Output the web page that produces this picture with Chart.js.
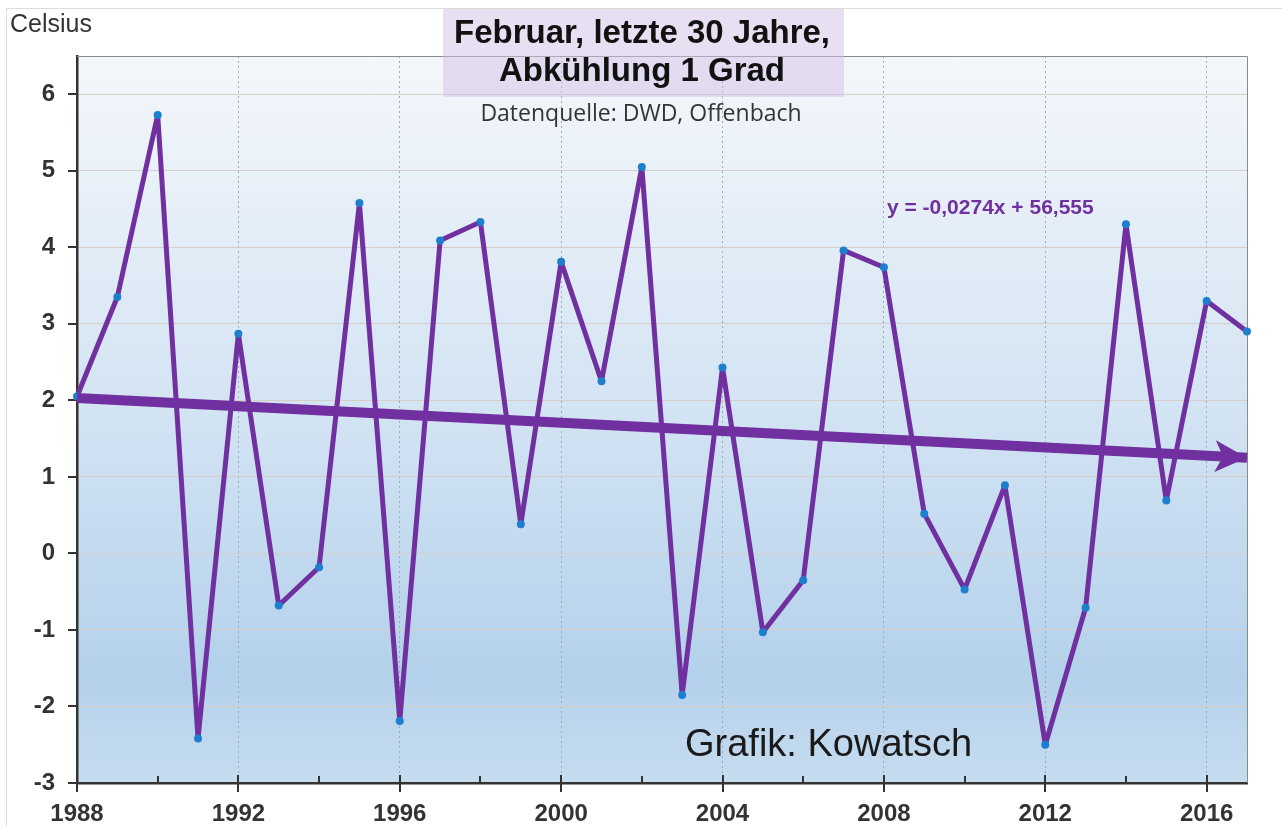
<!DOCTYPE html>
<html lang="de">
<head>
<meta charset="UTF-8">
<script src="https://cdn.jsdelivr.net/npm/chart.js@4.4.0/dist/chart.umd.min.js"></script>
<title>Februar, letzte 30 Jahre</title>
<style>
  body { margin: 0; background: #fff; }
  canvas { display: block; }
</style>
</head>
<body>
<canvas id="myChart" width="1282" height="827"></canvas>
<script>
// Februar-Mitteltemperaturen (DWD)
const years = [1988, 1989, 1990, 1991, 1992, 1993, 1994, 1995, 1996, 1997,
               1998, 1999, 2000, 2001, 2002, 2003, 2004, 2005, 2006, 2007,
               2008, 2009, 2010, 2011, 2012, 2013, 2014, 2015, 2016, 2017];
const temps = [2.05, 3.35, 5.73, -2.42, 2.87, -0.68, -0.18, 4.58, -2.19, 4.09,
               4.33, 0.38, 3.81, 2.25, 5.05, -1.85, 2.43, -1.03, -0.35, 3.96,
               3.74, 0.52, -0.47, 0.89, -2.50, -0.71, 4.30, 0.69, 3.30, 2.90];
// Trendpfeil (Anfang / Ende)
const trendYears = [1988, 2017];
const trendValues = [2.03, 1.25];

const titleLines = ['Februar, letzte 30 Jahre,', 'Abkühlung 1 Grad'];
const subTitle = 'Datenquelle: DWD, Offenbach';
const equation = 'y = -0,0274x + 56,555';
const credit = 'Grafik: Kowatsch';
const yTitle = 'Celsius';

const purple = '#7030a0';

// Hintergrund, Rahmen, Ticks
const backPlugin = {
  id: 'back',
  beforeDraw(chart) {
    const { ctx, chartArea: a } = chart;
    ctx.save();
    ctx.strokeStyle = '#dcdcdc';
    ctx.lineWidth = 1;
    ctx.strokeRect(6.5, 8.5, 1400, 900);
    const g = ctx.createLinearGradient(0, a.top, 0, a.bottom);
    g.addColorStop(0, '#f4f7fb');
    g.addColorStop(0.5, '#d2e3f3');
    g.addColorStop(0.85, '#b4d1eb');
    g.addColorStop(1, '#c6dcef');
    ctx.fillStyle = g;
    ctx.fillRect(a.left, a.top, a.right - a.left, a.bottom - a.top);
    ctx.restore();
  },
  beforeDatasetsDraw(chart) {
    const { ctx, chartArea: a, scales } = chart;
    ctx.save();
    ctx.strokeStyle = '#8a8a8a';
    ctx.lineWidth = 1;
    ctx.beginPath();
    ctx.moveTo(a.left, a.top + 0.5); ctx.lineTo(a.right + 0.5, a.top + 0.5);
    ctx.lineTo(a.right + 0.5, a.bottom);
    ctx.stroke();
    ctx.strokeStyle = '#333';
    ctx.lineWidth = 2;
    ctx.beginPath();
    scales.x.ticks.forEach(t => {
      const x = Math.round(scales.x.getPixelForValue(t.value));
      if (t.value % 4 === 0) { ctx.moveTo(x, a.bottom - 8); ctx.lineTo(x, a.bottom + 9); }
      else { ctx.moveTo(x, a.bottom - 7); ctx.lineTo(x, a.bottom); }
    });
    scales.y.ticks.forEach(t => {
      const y = Math.round(scales.y.getPixelForValue(t.value));
      ctx.moveTo(a.left - 9, y); ctx.lineTo(a.left + 1, y);
    });
    ctx.stroke();
    ctx.restore();
  },
  afterDatasetsDraw(chart) {
    const { ctx } = chart;
    const meta = chart.getDatasetMeta(0);
    const p0 = meta.data[0], p1 = meta.data[1];
    const ang = Math.atan2(p1.y - p0.y, p1.x - p0.x);
    ctx.save();
    ctx.translate(p1.x, p1.y);
    ctx.rotate(ang);
    ctx.fillStyle = purple;
    ctx.beginPath();
    ctx.moveTo(0, 0);
    ctx.lineTo(-32, -16);
    ctx.lineTo(-24, 0);
    ctx.lineTo(-32, 16);
    ctx.closePath();
    ctx.fill();
    ctx.restore();
  },
  afterDraw(chart) {
    const { ctx } = chart;
    ctx.save();
    ctx.fillStyle = 'rgba(212, 192, 230, 0.5)';
    ctx.fillRect(443, 9, 401, 88);
    ctx.textAlign = 'center';
    ctx.textBaseline = 'middle';
    ctx.fillStyle = '#111';
    ctx.font = 'bold 33px "Liberation Sans", Arial, sans-serif';
    ctx.fillText(titleLines[0], 642, 34);
    ctx.fillText(titleLines[1], 642, 72);
    ctx.fillStyle = '#333';
    ctx.font = '23px "Open Sans", sans-serif';
    ctx.fillText(subTitle, 641, 114);
    ctx.textAlign = 'left';
    ctx.fillStyle = purple;
    ctx.font = 'bold 21px "Liberation Sans", Arial, sans-serif';
    ctx.fillText(equation, 887, 208);
    ctx.fillStyle = '#1a1a1a';
    ctx.font = '38px "Liberation Sans", Arial, sans-serif';
    ctx.fillText(credit, 685, 746);
    ctx.fillStyle = '#333';
    ctx.font = '25px "Liberation Sans", Arial, sans-serif';
    ctx.fillText(yTitle, 10, 25);
    ctx.restore();
  }
};

const ctx = document.getElementById('myChart').getContext('2d');
const myChart = new Chart(ctx, {
  type: 'line',
  data: {
    datasets: [{
      label: 'Trend',
      data: trendYears.map((y, i) => ({ x: y, y: trendValues[i] })),
      borderColor: purple,
      borderWidth: 10,
      pointRadius: 0,
      order: 0,
      clip: false
    }, {
      label: 'Februar',
      data: years.map((y, i) => ({ x: y, y: temps[i] })),
      borderColor: purple,
      borderWidth: 5,
      borderJoinStyle: 'round',
      pointRadius: 4,
      pointBackgroundColor: '#1f7fcf',
      pointBorderWidth: 0,
      tension: 0,
      order: 1,
      clip: false
    }]
  },
  options: {
    responsive: false,
    animation: false,
    layout: { padding: { top: 56, right: 35, left: 0, bottom: 0 } },
    plugins: { legend: { display: false }, tooltip: { enabled: false } },
    scales: {
      x: {
        type: 'linear',
        min: 1988,
        max: 2017,
        afterFit: s => { s.height = 44; },
        ticks: {
          stepSize: 2,
          includeBounds: false,
          autoSkip: false,
          maxRotation: 0,
          padding: 17,
          color: '#333',
          font: { family: '"Liberation Sans", Arial', size: 24, weight: 'bold' },
          callback: v => (v % 4 === 0 ? String(v) : '')
        },
        grid: {
          drawTicks: false,
          color: c => (c.tick && c.tick.value % 4 === 0 && c.tick.value !== 1988 ? '#9eaab8' : 'rgba(0,0,0,0)'),
          lineWidth: 1
        },
        border: { color: '#333', width: 2.5, dash: [2, 3] }
      },
      y: {
        min: -3,
        max: 6.5,
        afterFit: s => { s.width = 77; },
        ticks: {
          stepSize: 1,
          includeBounds: false,
          padding: 22,
          color: '#333',
          font: { family: '"Liberation Sans", Arial', size: 24, weight: 'bold' }
        },
        grid: {
          drawTicks: false,
          color: c => (c.tick && c.tick.value === -3 ? 'rgba(0,0,0,0)' : '#d6cfc9'),
          lineWidth: 1
        },
        border: { color: '#333', width: 2.5 }
      }
    }
  },
  plugins: [backPlugin]
});
</script>
</body>
</html>
